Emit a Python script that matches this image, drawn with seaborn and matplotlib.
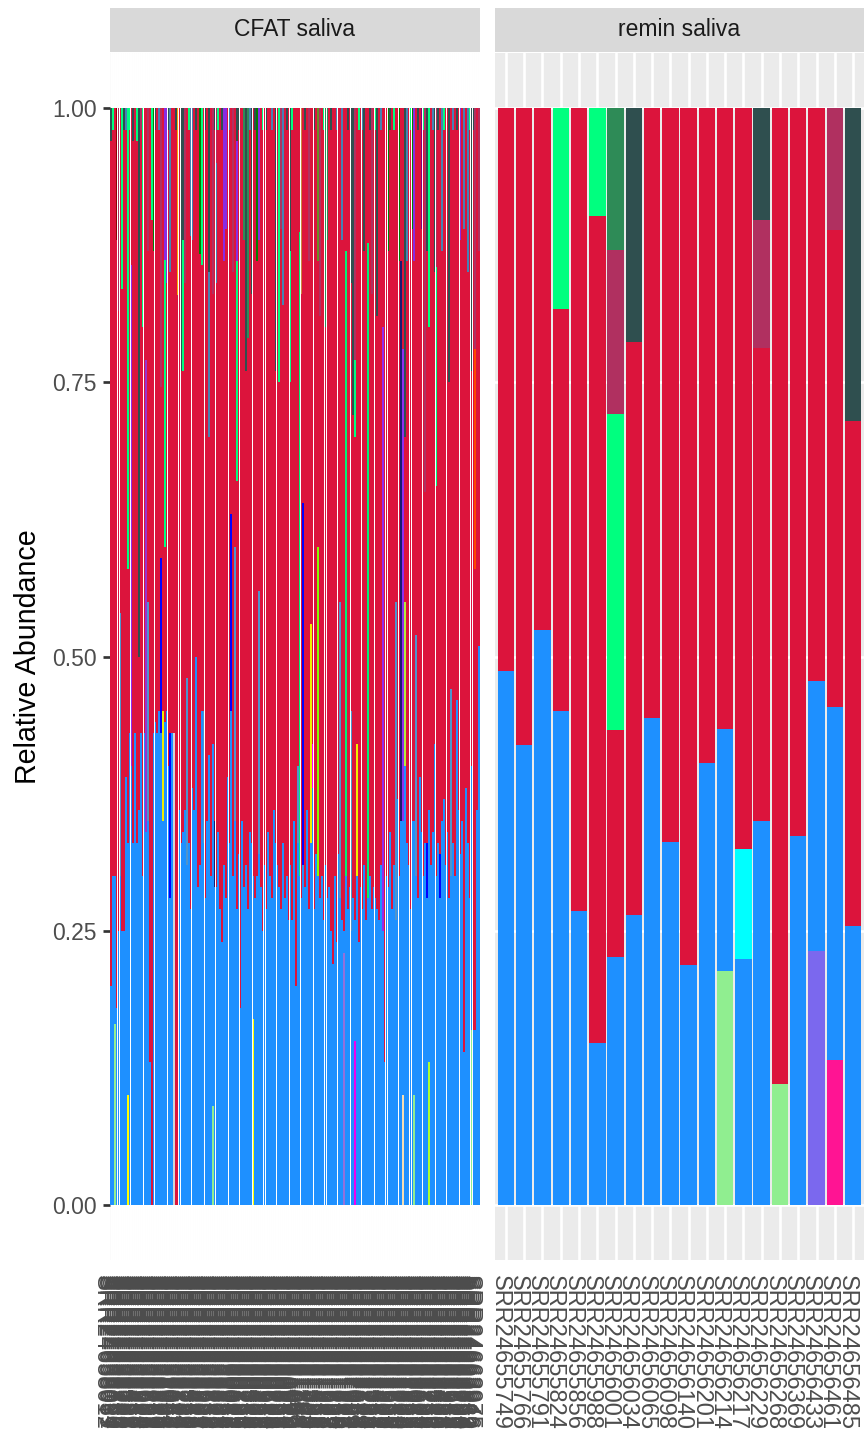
import numpy as np
import pandas as pd
import matplotlib
matplotlib.use('Agg')
import matplotlib.pyplot as plt
from matplotlib.transforms import ScaledTranslation
import seaborn as sns

sns.set_theme(style='white')
plt.rcParams['font.family'] = ['Liberation Sans', 'DejaVu Sans']

# genera, in stacking order from the top of each bar down
taxa = ['Haemophilus', 'Porphyromonas', 'Selenomonas', 'Fusobacterium', 'Prevotella',
        'Leptotrichia', 'Gemella', 'Aggregatibacter', 'Capnocytophaga', 'Campylobacter',
        'Tannerella', 'Olsenella', 'Rothia', 'Alloprevotella', 'Lautropia',
        'Neisseria',
        'Granulicatella', 'Veillonella', 'Oribacterium', 'Megasphaera', 'Stomatobaculum',
        'Johnsonella', 'Parvimonas', 'Dialister', 'Treponema', 'Eikenella', 'Kingella',
        'Streptococcus',
        'Actinomyces', 'Atopobium', 'Lactobacillus', 'Schaalia', 'Corynebacterium',
        'Abiotrophia', 'Peptostreptococcus', 'Solobacterium', 'Mogibacterium']
taxa_colors = ['#2F4F4F', '#2E8B57', '#8B0000', '#B03060', '#8A2BE2',
               '#4682B4', '#008000', '#FFA500', '#800080', '#006400',
               '#CD853F', '#6B8E23', '#00FF7F', '#000080', '#FF4500',
               '#DC143C',
               '#00FFFF', '#4F94CD', '#0000FF', '#9A32CD', '#912CEE',
               '#191970', '#EEEE00', '#FF00FF', '#7FFF00', '#B3EE3A', '#00EE76',
               '#1E90FF',
               '#90EE90', '#7B68EE', '#FF1493', '#FFFF00', '#D3D3D3',
               '#9370DB', '#F5DEB3', '#ADFF2F', '#EE00EE']
palette = dict(zip(taxa, taxa_colors))

# ---- remin saliva ----
remin_ids = [24655749, 24655766, 24655791, 24655824, 24655856, 24655988, 24656001,
             24656034, 24656065, 24656098, 24656140, 24656201, 24656214, 24656217,
             24656229, 24656268, 24656369, 24656433, 24656461, 24656485]
remin_strep = [.487, .419, .524, .450, .268, .147, .226, .264, .444, .331,
               .219, .403, .221, .224, .350, .000, .336, .246, .322, .254]
remin_neis = [.513, .581, .476, .367, .732, .752, .206, .523, .556, .669,
              .781, .597, .566, .675, .431, .890, .664, .522, .435, .461]
remin_other_idx = [3, 5, 6, 6, 6, 7, 12, 13, 14, 14, 15, 17, 18, 18, 19]
remin_other_genus = ['Rothia', 'Rothia', 'Rothia', 'Fusobacterium', 'Porphyromonas',
                     'Haemophilus', 'Actinomyces', 'Granulicatella', 'Fusobacterium',
                     'Haemophilus', 'Actinomyces', 'Atopobium', 'Lactobacillus',
                     'Fusobacterium', 'Haemophilus']
remin_other_val = [.183, .098, .288, .149, .129, .213, .213, .101, .117, .102,
                   .110, .232, .132, .111, .285]

# ---- CFAT saliva ----
cfat_ids = [24658012, 24658039, 24658061, 24658094, 24658120, 24658157, 24658183, 24658206, 24658241, 24658270,
            24658302, 24658335, 24658368, 24658391, 24658427, 24658450, 24658486, 24658513, 24658549, 24658572,
            24658604, 24658638, 24658665, 24658697, 24658723, 24658759, 24658782, 24658816, 24658840, 24658873,
            24658905, 24658931, 24658968, 24658994, 24659027, 24659053, 24659086, 24659112, 24659145, 24659179,
            24659204, 24659238, 24659261, 24659295, 24659320, 24659356, 24659389, 24659413, 24659447, 24659472,
            24659508, 24659531, 24659567, 24659590, 24659624, 24659658, 24659683, 24659719, 24659742, 24659776,
            24659801, 24659835, 24659869, 24659892, 24659926, 24659954, 24659987, 24660013, 24660048, 24660071,
            24660105, 24660139, 24660162, 24660196, 24660223, 24660257, 24660280, 24660314, 24660349, 24660375,
            24660408, 24660431, 24660465, 24660498, 24660522, 24660556, 24660589, 24660617, 24660640, 24660674,
            24660709, 24660735, 24660768, 24660791, 24660826, 24660853, 24660887, 24660910, 24660944, 24660979,
            24661003, 24661036, 24661062, 24661095, 24661128, 24661154, 24661187, 24661221, 24661246, 24661280,
            24661305, 24661339, 24661364, 24661398, 24661427, 24661451, 24661486, 24661512, 24661547, 24661573,
            24661608, 24661632, 24661667, 24661695, 24661720, 24661758, 24661784, 24661819, 24661843, 24661876,
            24661902, 24661937, 24661961, 24661994, 24662025, 24662059, 24662083, 24662118, 24662142, 24662177,
            24662206, 24662230, 24662264, 24662297, 24662321, 24662355, 24662388, 24662414, 24662449, 24662471,
            24662507, 24662533, 24662566, 24662592, 24662628, 24662650, 24662685, 24662711, 24662746, 24662770,
            24662804, 24662838, 24662863, 24662897, 24662925, 24662952, 24662986, 24663012, 24663047, 24663079,
            24663101, 24663135, 24663168, 24663194, 24663229, 24663256, 24663283, 24663317, 24663340, 24663376,
            24663409, 24663432, 24663468, 24663495, 24663521, 24663557, 24663584, 24663618, 24663645, 24663679,
            24663703, 24663738, 24663760, 24663796, 24663824, 24663851, 24663889, 24663912, 24663946, 24663975]
cfat_strep = [.20, .30, .135, .18, .25, .30, .25, .25, .39, .23,
              .43, .40, .33, .43, .33, .36, .43, .30, .43, .34,
              .35, .13, .00, .43, .44, .43, .45, .43, .35, .44,
              .45, .40, .28, .43, .00, .00, .00, .36, .33, .34,
              .36, .31, .33, .27, .38, .36, .50, .29, .31, .45,
              .33, .28, .35, .41, .30, .33, .29, .29, .34, .27,
              .24, .31, .28, .39, .33, .45, .30, .35, .27, .32,
              .18, .35, .29, .31, .27, .34, .33, .13, .28, .30,
              .32, .29, .25, .31, .27, .34, .30, .28, .36, .33,
              .31, .29, .27, .33, .28, .30, .26, .31, .26, .35,
              .20, .33, .30, .28, .31, .29, .36, .27, .33, .38,
              .27, .32, .30, .28, .30, .26, .31, .28, .29, .25,
              .22, .30, .24, .32, .28, .26, .02, .30, .27, .29,
              .25, .28, .11, .30, .24, .29, .27, .31, .26, .28,
              .30, .27, .29, .28, .27, .26, .31, .25, .13, .30,
              .29, .34, .27, .31, .26, .37, .30, .35, .25, .40,
              .33, .31, .27, .35, .25, .30, .28, .39, .34, .30,
              .33, .28, .23, .31, .34, .42, .30, .33, .28, .35,
              .37, .31, .34, .28, .30, .33, .30, .46, .36, .32,
              .35, .14, .38, .33, .28, .24, .16, .16, .36, .51]
cfat_neis = [.77, .68, .70, .70, .565, .46, .585, .73, .59, .25,
             .55, .143, .64, .57, .64, .14, .55, .50, .57, .23,
             .32, .87, .898, .44, .54, .57, .53, .156, .55, .16,
             .39, .58, .42, .57, .57, .98, .829, .64, .43, .42,
             .48, .52, .65, .613, .50, .64, .48, .71, .557, .407,
             .55, .70, .65, .29, .70, .41, .63, .55, .64, .73,
             .74, .55, .61, .61, .65, .37, .55, .40, .39, .66,
             .82, .65, .59, .45, .52, .64, .50, .70, .70, .56,
             .32, .71, .73, .69, .71, .66, .70, .70, .64, .43,
             .69, .46, .62, .49, .72, .68, .74, .44, .72, .65,
             .80, .60, .113, .55, .36, .69, .64, .59, .47, .58,
             .71, .68, .26, .53, .70, .72, .49, .60, .71, .73,
             .78, .70, .74, .68, .45, .62, .75, .13, .71, .71,
             .39, .44, .44, .58, .74, .71, .71, .56, .74, .123,
             .68, .56, .71, .70, .54, .74, .67, .20, .87, .70,
             .58, .64, .73, .67, .45, .63, .56, .14, .22, .15,
             .53, .69, .71, .54, .51, .48, .70, .61, .55, .68,
             .32, .54, .44, .69, .64, .43, .355, .65, .68, .52,
             .61, .69, .66, .47, .53, .65, .70, .52, .64, .56,
             .65, .75, .62, .52, .70, .36, .82, .42, .64, .36]
# minor genera stacked above Neisseria
cfat_top_idx = [0, 1, 3, 4, 6, 7, 8, 9, 10, 12, 14, 15, 16, 17, 20, 22, 23, 24, 26, 27,
                29, 29, 30, 31, 32, 35, 36, 38, 39, 39, 40, 42, 43, 44, 46, 48, 49, 51, 53, 53,
                55, 56, 57, 57, 58, 60, 61, 62, 64, 66, 68, 68, 68, 69, 72, 73, 74, 75, 76, 78,
                79, 80, 82, 84, 87, 89, 91, 92, 93, 95, 97, 97, 98, 103, 105, 107, 110, 112, 113, 115,
                116, 117, 119, 122, 125, 128, 130, 131, 132, 132, 134, 136, 137, 140, 141, 143, 144, 146, 150, 151,
                153, 156, 159, 160, 162, 163, 164, 166, 168, 169, 170, 171, 172, 174, 175, 176, 176, 177, 179, 180,
                183, 185, 187, 189, 191, 193, 194, 195, 196, 197, 197, 199]
cfat_top_genus = ['Haemophilus', 'Rothia', 'Selenomonas', 'Fusobacterium', 'Rothia', 'Haemophilus', 'Leptotrichia', 'Rothia', 'Rothia', 'Haemophilus',
                  'Rothia', 'Haemophilus', 'Fusobacterium', 'Rothia', 'Fusobacterium', 'Rothia', 'Gemella', 'Haemophilus', 'Leptotrichia', 'Fusobacterium',
                  'Prevotella', 'Rothia', 'Prevotella', 'Haemophilus', 'Leptotrichia', 'Haemophilus', 'Aggregatibacter', 'Haemophilus', 'Haemophilus', 'Rothia',
                  'Fusobacterium', 'Rothia', 'Leptotrichia', 'Leptotrichia', 'Haemophilus', 'Gemella', 'Rothia', 'Haemophilus', 'Haemophilus', 'Leptotrichia',
                  'Fusobacterium', 'Haemophilus', 'Leptotrichia', 'Fusobacterium', 'Rothia', 'Haemophilus', 'Prevotella', 'Prevotella', 'Leptotrichia', 'Fusobacterium',
                  'Prevotella', 'Haemophilus', 'Rothia', 'Haemophilus', 'Porphyromonas', 'Haemophilus', 'Porphyromonas', 'Leptotrichia', 'Haemophilus', 'Haemophilus',
                  'Gemella', 'Prevotella', 'Rothia', 'Haemophilus', 'Leptotrichia', 'Haemophilus', 'Rothia', 'Fusobacterium', 'Leptotrichia', 'Haemophilus',
                  'Haemophilus', 'Rothia', 'Rothia', 'Tannerella', 'Haemophilus', 'Fusobacterium', 'Haemophilus', 'Olsenella', 'Fusobacterium', 'Rothia',
                  'Porphyromonas', 'Porphyromonas', 'Haemophilus', 'Leptotrichia', 'Leptotrichia', 'Haemophilus', 'Haemophilus', 'Haemophilus', 'Fusobacterium', 'Rothia',
                  'Rothia', 'Leptotrichia', 'Haemophilus', 'Haemophilus', 'Fusobacterium', 'Rothia', 'Haemophilus', 'Leptotrichia', 'Gemella', 'Haemophilus',
                  'Rothia', 'Gemella', 'Haemophilus', 'Leptotrichia', 'Rothia', 'Gemella', 'Prevotella', 'Haemophilus', 'Capnocytophaga', 'Rothia',
                  'Fusobacterium', 'Haemophilus', 'Rothia', 'Leptotrichia', 'Haemophilus', 'Fusobacterium', 'Rothia', 'Haemophilus', 'Leptotrichia', 'Rothia',
                  'Haemophilus', 'Leptotrichia', 'Haemophilus', 'Prevotella', 'Leptotrichia', 'Leptotrichia', 'Rothia', 'Haemophilus', 'Haemophilus', 'Fusobacterium',
                  'Lautropia', 'Fusobacterium']
cfat_top_val = [.03, .02, .12, .185, .165, .02, .02, .42, .02, .03,
                .03, .50, .02, .20, .13, .102, .13, .02, .02, .254,
                .139, .261, .16, .02, .15, .02, .171, .24, .12, .12,
                .16, .02, .117, .12, .02, .133, .143, .02, .15, .15,
                .17, .02, .11, .05, .02, .02, .14, .11, .02, .15,
                .11, .03, .20, .02, .12, .24, .21, .02, .17, .02,
                .14, .12, .02, .02, .02, .24, .25, .11, .18, .02,
                .13, .12, .02, .17, .02, .14, .02, .14, .19, .02,
                .20, .12, .02, .02, .12, .02, .16, .28, .23, .07,
                .02, .02, .13, .02, .17, .02, .19, .02, .13, .02,
                .02, .14, .30, .14, .02, .11, .14, .02, .11, .02,
                .35, .13, .20, .02, .15, .145, .20, .02, .13, .02,
                .25, .02, .02, .12, .11, .15, .02, .24, .02, .22,
                .20, .13]
# minor genera between Streptococcus and Neisseria
cfat_mid_idx = [5, 11, 19, 20, 27, 28, 32, 41, 50, 56, 65, 67, 80, 101, 102, 104, 108,
                109, 112, 124, 127, 130, 133, 139, 147, 154, 157, 158, 159, 165, 171, 178, 184]
cfat_mid_genus = ['Veillonella', 'Stomatobaculum', 'Megasphaera', 'Veillonella', 'Oribacterium',
                  'Parvimonas', 'Oribacterium', 'Veillonella', 'Veillonella', 'Johnsonella',
                  'Oribacterium', 'Veillonella', 'Veillonella', 'Veillonella', 'Kingella',
                  'Oribacterium', 'Parvimonas', 'Dialister', 'Treponema', 'Veillonella',
                  'Kingella', 'Veillonella', 'Parvimonas', 'Kingella', 'Stomatobaculum',
                  'Veillonella', 'Johnsonella', 'Stomatobaculum', 'Eikenella', 'Veillonella',
                  'Oribacterium', 'Oribacterium', 'Veillonella']
cfat_mid_val = [.24, .457, .43, .20, .16, .10, .15, .17, .12, .06, .18, .25, .24, .07, .587,
                .33, .20, .04, .30, .27, .57, .20, .12, .597, .55, .29, .51, .43, .15, .22,
                .05, .04, .17]
# minor genera below Streptococcus
cfat_low_idx = [2, 9, 34, 55, 77, 126, 132, 158, 164, 172, 195]
cfat_low_genus = ['Actinomyces', 'Schaalia', 'Corynebacterium', 'Actinomyces', 'Schaalia',
                  'Abiotrophia', 'Mogibacterium', 'Peptostreptococcus', 'Actinomyces',
                  'Solobacterium', 'Actinomyces']
cfat_low_val = [.165, .10, .43, .09, .17, .23, .15, .10, .10, .13, .16]


def build_table(strep, neis, extra_idx, extra_genus, extra_val):
    rows = []
    for i, v in enumerate(strep):
        rows.append((i, 'Streptococcus', v))
    for i, v in enumerate(neis):
        rows.append((i, 'Neisseria', v))
    for i, g, v in zip(extra_idx, extra_genus, extra_val):
        rows.append((i, g, v))
    # every genus present so colours and stacking order line up
    for g in taxa:
        rows.append((0, g, 0.0))
    return pd.DataFrame(rows, columns=['sample', 'genus', 'abundance'])


cfat_df = build_table(cfat_strep, cfat_neis,
                      cfat_top_idx + cfat_mid_idx + cfat_low_idx,
                      cfat_top_genus + cfat_mid_genus + cfat_low_genus,
                      cfat_top_val + cfat_mid_val + cfat_low_val)
remin_df = build_table(remin_strep, remin_neis,
                       remin_other_idx, remin_other_genus, remin_other_val)

W, H = 864, 1431
fig = plt.figure(figsize=(W / 100, H / 100), dpi=100)
panel_bottom = 1 - 1260 / H
panel_h = (1260 - 53) / H


def draw_panel(x0, x1, table, ids, title, show_y, label_dx):
    ax = fig.add_axes([x0 / W, panel_bottom, (x1 - x0) / W, panel_h])
    n = len(ids)
    sns.histplot(data=table, x='sample', weights='abundance', hue='genus',
                 hue_order=taxa, palette=palette, multiple='fill', discrete=True,
                 shrink=0.9, alpha=1, linewidth=0, legend=False, ax=ax)
    ax.set_facecolor('#EBEBEB')
    ax.set_xlim(-0.6, n - 0.4)
    ax.set_ylim(-0.05, 1.05)
    ax.set_xticks(range(n))
    ax.set_xticklabels(['SRR%d' % s for s in ids], rotation=270, ha='center',
                       va='top', fontsize=17, color='#4D4D4D')
    ax.set_yticks([0, 0.25, 0.5, 0.75, 1.0])
    ax.set_yticklabels(['0.00', '0.25', '0.50', '0.75', '1.00'])
    ax.grid(True, color='white', linewidth=1.94)
    ax.set_axisbelow(True)
    for s in ax.spines.values():
        s.set_visible(False)
    ax.tick_params(axis='x', length=0, pad=10.5)
    if show_y:
        ax.tick_params(axis='y', left=True, length=5, width=1.94, color='#333333',
                       pad=4.5, labelsize=16.5, labelcolor='#4D4D4D')
    else:
        ax.tick_params(axis='y', left=False, labelleft=False)
    ax.set_xlabel('')
    ax.set_ylabel('')
    # nudge the rotated sample names left, as ggplot's vjust does
    shift = ScaledTranslation(label_dx / 100, 0, fig.dpi_scale_trans)
    for lbl in ax.get_xticklabels():
        lbl.set_transform(lbl.get_transform() + shift)

    # facet strip
    sax = fig.add_axes([x0 / W, 1 - 52 / H, (x1 - x0) / W, 44 / H])
    sax.set_facecolor('#D9D9D9')
    sax.set_xticks([])
    sax.set_yticks([])
    for s in sax.spines.values():
        s.set_visible(False)
    sax.text(0.5, 0.5, title, ha='center', va='center', fontsize=16.5,
             color='#1A1A1A', transform=sax.transAxes)
    return ax


draw_panel(110, 480, cfat_df, cfat_ids, 'CFAT saliva', True, -9.5)
draw_panel(495, 864, remin_df, remin_ids, 'remin saliva', False, -6.5)

fig.text(27.5 / W, 1 - 656.5 / H, 'Relative Abundance', rotation=90,
         ha='center', va='center', fontsize=20.6, color='black')

fig.savefig('out.png', dpi=100)
